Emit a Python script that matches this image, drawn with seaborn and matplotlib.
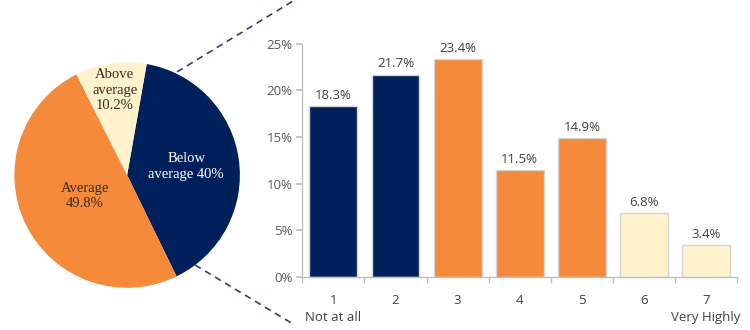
import matplotlib
matplotlib.use("Agg")
import matplotlib.pyplot as plt
import seaborn as sns
import pandas as pd
from matplotlib.lines import Line2D
import numpy as np

# ---- data ----
pie_labels = ["Below\naverage 40%", "Average\n49.8%", "Above\naverage\n10.2%"]
pie_values = [40.0, 49.8, 10.2]
pie_colors = ["#00205B", "#F58A3A", "#FFF2CC"]
pie_text_colors = ["white", "#3a2a1e", "#3a2a1e"]

categories = ["1\nNot at all", "2", "3", "4", "5", "6", "7\nVery Highly"]
bar_values = [18.3, 21.7, 23.4, 11.5, 14.9, 6.8, 3.4]
bar_groups = ["low", "low", "mid", "mid", "mid", "high", "high"]
group_colors = {"low": "#00205B", "mid": "#F58A3A", "high": "#FFF2CC"}
y_ticks = [0, 5, 10, 15, 20, 25]

sns.set_theme(style="white")
plt.rcParams["font.family"] = ["Open Sans", "DejaVu Sans"]

fig = plt.figure(figsize=(7.5, 3.3), dpi=100)

# ---- pie ----
ax_pie = fig.add_axes([0.016, 0.121, 0.307, 0.697])
wedges, _ = ax_pie.pie(pie_values, colors=pie_colors, startangle=80,
                       counterclock=False, radius=1.0,
                       wedgeprops=dict(linewidth=0))
dists = [0.53, 0.42, 0.76]
for w, lab, d, c in zip(wedges, pie_labels, dists, pie_text_colors):
    ang = np.deg2rad((w.theta1 + w.theta2) / 2)
    ax_pie.text(d * np.cos(ang), d * np.sin(ang), lab, ha="center", va="center",
                color=c, fontsize=10.5, family=["Liberation Serif", "DejaVu Serif"],
                linespacing=1.25)
ax_pie.set_xlim(-1.02, 1.02)
ax_pie.set_ylim(-1.02, 1.02)
ax_pie.set_aspect("equal")
ax_pie.axis("off")

# ---- bars ----
ax = fig.add_axes([0.403, 0.161, 0.580, 0.706])
df = pd.DataFrame({"cat": categories, "val": bar_values, "grp": bar_groups})
sns.barplot(data=df, x="cat", y="val", hue="grp", palette=group_colors,
            dodge=False, width=0.77, edgecolor="#d6d6d6", linewidth=1,
            saturation=1, legend=False, ax=ax)
for cont in ax.containers:
    ax.bar_label(cont, labels=[f"{v:.1f}%" for v in cont.datavalues],
                 padding=3, fontsize=9.5, color="#404040")
ax.set_ylim(0, 25)
ax.set_yticks(y_ticks)
ax.set_yticklabels([f"{t}%" for t in y_ticks])
ax.set_xlim(-0.5, 6.5)
ax.set_xlabel("")
ax.set_ylabel("")
for s in ["top", "right"]:
    ax.spines[s].set_visible(False)
for s in ["left", "bottom"]:
    ax.spines[s].set_color("#bfbfbf")
    ax.spines[s].set_linewidth(1)
ax.tick_params(axis="y", left=True, length=4, color="#bfbfbf", labelsize=9.5,
               labelcolor="#595959", pad=3)
ax.tick_params(axis="x", bottom=False, labelsize=9.5, labelcolor="#404040", pad=6)
ax.set_xticks(np.arange(-0.5, 7.0, 1.0), minor=True)
ax.tick_params(axis="x", which="minor", bottom=True, length=4, color="#bfbfbf")
for lbl in ax.get_xticklabels():
    lbl.set_linespacing(1.4)
    lbl.set_va("top")

# ---- connector lines ----
fig.add_artist(Line2D([0.236, 0.393], [0.782, 1.0], transform=fig.transFigure,
                      color="#2f3f7f", linestyle=(0, (4, 3)), linewidth=1.2))
fig.add_artist(Line2D([0.26, 0.393], [0.197, 0.015], transform=fig.transFigure,
                      color="#2f3f7f", linestyle=(0, (4, 3)), linewidth=1.2))

fig.savefig("out.png", dpi=100, facecolor="white")
